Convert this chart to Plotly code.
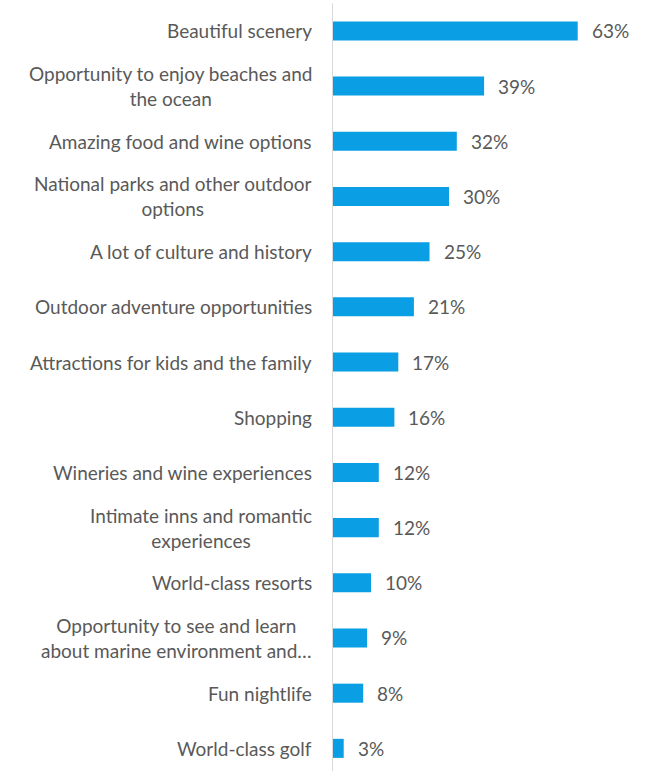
import plotly.graph_objects as go

categories = [
    "Beautiful scenery",
    "Opportunity to enjoy beaches and<br>the ocean",
    "Amazing food and wine options",
    "National parks and other outdoor<br>options",
    "A lot of culture and history",
    "Outdoor adventure opportunities",
    "Attractions for kids and the family",
    "Shopping",
    "Wineries and wine experiences",
    "Intimate inns and romantic<br>experiences",
    "World-class resorts",
    "Opportunity to see and learn<br>about marine environment and…",
    "Fun nightlife",
    "World-class golf",
]
values = [63, 39, 32, 30, 25, 21, 17, 16, 12, 12, 10, 9, 8, 3]
value_labels = [f"{v}%" for v in values]

BAR_COLOR = "#0a9ee4"
TEXT_COLOR = "#595959"
FONT = "Lato"
FONT_SIZE = 19

ypos = list(range(len(categories)))

fig = go.Figure(
    go.Bar(
        x=values,
        y=ypos,
        orientation="h",
        marker=dict(color=BAR_COLOR, line=dict(width=0)),
        width=0.345,
        hoverinfo="skip",
    )
)

# category labels, centred line-by-line, right edge just left of the axis
for y, name in zip(ypos, categories):
    fig.add_annotation(
        x=0, y=y, xref="x", yref="y", text=name, showarrow=False,
        xanchor="right", yanchor="middle", align="center", xshift=-18,
        font=dict(family=FONT, size=FONT_SIZE, color=TEXT_COLOR),
    )

# value labels to the right of each bar
for y, v, lab in zip(ypos, values, value_labels):
    fig.add_annotation(
        x=v, y=y, xref="x", yref="y", text=lab, showarrow=False,
        xanchor="left", yanchor="middle", xshift=12,
        font=dict(family=FONT, size=FONT_SIZE, color=TEXT_COLOR),
    )

# vertical category axis line
fig.add_shape(
    type="line", xref="x", yref="y", x0=0, x1=0, y0=-0.5, y1=len(categories) + 1,
    line=dict(color="#d9d9d9", width=2), layer="above",
)

fig.update_layout(
    width=650, height=771,
    margin=dict(l=332, r=6, t=0, b=0),
    paper_bgcolor="white", plot_bgcolor="white",
    showlegend=False,
    xaxis=dict(range=[0, 80], visible=False, fixedrange=True),
    yaxis=dict(range=[13.41, -0.56], visible=False, fixedrange=True),
)

fig.write_html("out.html")
